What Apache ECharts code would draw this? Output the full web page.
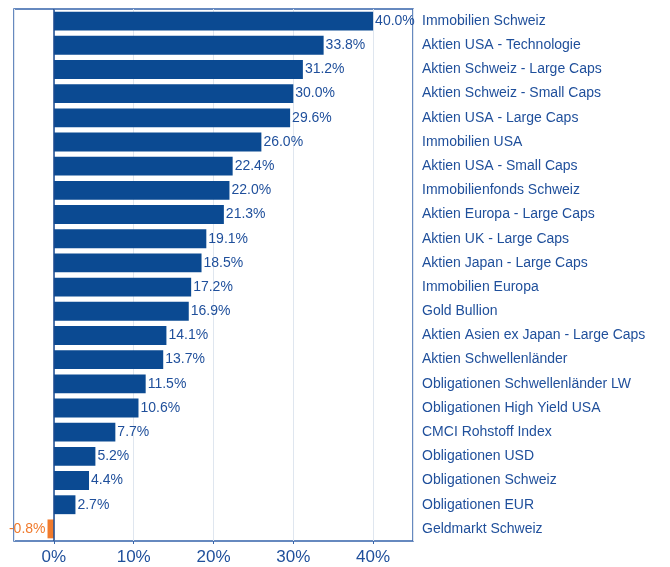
<!DOCTYPE html>
<html>
<head>
<meta charset="utf-8">
<script src="https://cdn.jsdelivr.net/npm/echarts@6/dist/echarts.min.js"></script>
<style>
  html, body { margin: 0; padding: 0; background: #fff; }
  #chart { width: 670px; height: 567px; }
</style>
</head>
<body>
<div id="chart"></div>
<script>
// Kategorien und Renditen (in %)
var categories = [
  'Immobilien Schweiz', 'Aktien USA - Technologie', 'Aktien Schweiz - Large Caps',
  'Aktien Schweiz - Small Caps', 'Aktien USA - Large Caps', 'Immobilien USA',
  'Aktien USA - Small Caps', 'Immobilienfonds Schweiz', 'Aktien Europa - Large Caps',
  'Aktien UK - Large Caps', 'Aktien Japan - Large Caps', 'Immobilien Europa',
  'Gold Bullion', 'Aktien Asien ex Japan - Large Caps', 'Aktien Schwellenländer',
  'Obligationen Schwellenländer LW', 'Obligationen High Yield USA', 'CMCI Rohstoff Index',
  'Obligationen USD', 'Obligationen Schweiz', 'Obligationen EUR', 'Geldmarkt Schweiz'
];
var values = [40.0, 33.8, 31.2, 30.0, 29.6, 26.0, 22.4, 22.0, 21.3, 19.1, 18.5,
  17.2, 16.9, 14.1, 13.7, 11.5, 10.6, 7.7, 5.2, 4.4, 2.7, -0.8];
var tickValues = [0, 10, 20, 30, 40];

var blue = '#0b4a92';
var orange = '#f07a2c';
var textBlue = '#1f4f9b';
var font = 'Liberation Sans, Arial, sans-serif';

var chart = echarts.init(document.getElementById('chart'));

var barData = values.map(function (v) {
  var neg = v < 0;
  return {
    value: v,
    itemStyle: { color: neg ? orange : blue },
    label: {
      position: neg ? 'left' : 'right',
      color: neg ? orange : textBlue
    }
  };
});

chart.setOption({
  animation: false,
  grid: {
    left: 14, right: 257, top: 9, bottom: 26,
    show: true, borderColor: '#3563aa', borderWidth: 1.5, backgroundColor: 'transparent'
  },
  xAxis: {
    type: 'value',
    min: -5,
    max: 45,
    axisLine: { show: false },
    axisTick: { show: true, length: 3, lineStyle: { color: '#3563aa' } },
    axisLabel: {
      showMinLabel: false,
      showMaxLabel: false,
      margin: 8,
      color: textBlue,
      fontFamily: font,
      fontSize: 17,
      formatter: function (v) { return tickValues.indexOf(v) >= 0 ? v + '%' : ''; }
    },
    splitLine: { lineStyle: { color: '#dfe6ef', width: 1 } }
  },
  yAxis: {
    type: 'category',
    data: categories,
    inverse: true,
    position: 'right',
    axisLine: { show: false },
    axisTick: { show: false },
    axisLabel: {
      margin: 9,
      color: textBlue,
      fontFamily: font,
      fontSize: 14
    }
  },
  series: [{
    type: 'bar',
    data: barData,
    barCategoryGap: '22%',
    label: {
      show: true,
      distance: 2,
      fontFamily: font,
      fontSize: 14,
      formatter: function (p) { return p.value.toFixed(1) + '%'; }
    },
    markLine: {
      silent: true,
      symbol: 'none',
      label: { show: false },
      lineStyle: { color: '#1b4a8f', type: 'solid', width: 1.5 },
      data: [{ xAxis: 0 }]
    }
  }]
});
</script>
</body>
</html>
